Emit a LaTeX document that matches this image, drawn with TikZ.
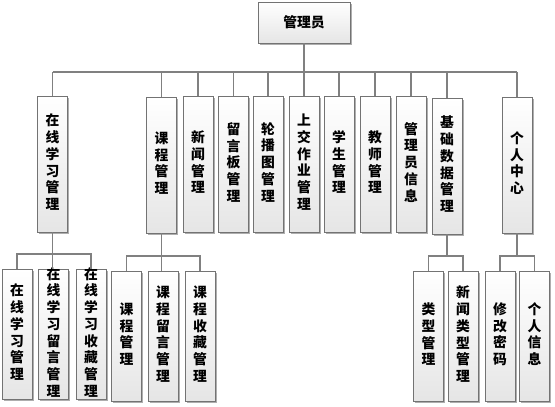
\documentclass[tikz,border=0pt]{standalone}
\usepackage{fontspec}
\usepackage{tikz}
\usetikzlibrary{shadows, positioning}
\newfontfamily\cjk{Noto Sans CJK SC}
\newcommand{\vtext}[1]{\parbox[c][0pt][c]{16pt}{\centering #1}}

\begin{document}
\begin{tikzpicture}[
    x=1pt, y=-1pt,
    module/.style={draw=black!55, line width=0.8pt, top color=white, bottom color=black!10,
        drop shadow={shadow xshift=1.5pt, shadow yshift=-1.5pt, fill=black!45, opacity=0.7},
        minimum width=30pt, minimum height=136pt, inner sep=0pt,
        font=\cjk\bfseries\fontsize{13.8}{16.7}\selectfont},
    submodule/.style={module, minimum height=130pt},
    conn/.style={draw=black!50, line width=1.2pt}
]
\useasboundingbox (0,0) rectangle (555,407);

% Top
\node[module, minimum width=92pt, minimum height=41pt] (admin) at (304,22.5) {管理员};
\coordinate (bus1) at (0,72);

% Second layer
\node[module] (zxxx) at (52.5,164) {\vtext{在\\线\\学\\习\\管\\理}};
\node[module] (kc) at (161.5,165) {\vtext{课\\程\\管\\理}};
\node[module] (xw) at (198,164) {\vtext{新\\闻\\管\\理}};
\node[module] (lyb) at (233.5,164) {\vtext{留\\言\\板\\管\\理}};
\node[module] (lbt) at (268,164) {\vtext{轮\\播\\图\\管\\理}};
\node[module] (sjzy) at (304,164) {\vtext{上\\交\\作\\业\\管\\理}};
\node[module] (xs) at (339,164) {\vtext{学\\生\\管\\理}};
\node[module] (js) at (375,164) {\vtext{教\\师\\管\\理}};
\node[module] (gly) at (411,164) {\vtext{管\\理\\员\\信\\息}};
\node[module] (jcsj) at (447,166) {\vtext{基\\础\\数\\据\\管\\理}};
\node[module] (grzx) at (517,165) {\vtext{个\\人\\中\\心}};

\draw[conn] (admin.south) -- (admin.south |- bus1);
\draw[conn] (zxxx.north |- bus1) -- (grzx.north |- bus1);
\foreach \n in {zxxx,kc,xw,lyb,lbt,sjzy,xs,js,gly,jcsj,grzx}
    \draw[conn] (\n.north) -- (\n.north |- bus1);

% Third layer
\node[submodule] (zxxx1) at (17,334) {\vtext{在\\线\\学\\习\\管\\理}};
\node[submodule] (zxly) at (53.5,334) {\vtext{在\\线\\学\\习\\留\\言\\管\\理}};
\node[submodule] (zxsc) at (91,334) {\vtext{在\\线\\学\\习\\收\\藏\\管\\理}};
\node[submodule] (kc1) at (126.5,336) {\vtext{课\\程\\管\\理}};
\node[submodule] (kcly) at (163,336) {\vtext{课\\程\\留\\言\\管\\理}};
\node[submodule] (kcsc) at (200,336) {\vtext{课\\程\\收\\藏\\管\\理}};
\node[submodule] (lxgl) at (428.5,336) {\vtext{类\\型\\管\\理}};
\node[submodule] (xwlx) at (463,336) {\vtext{新\\闻\\类\\型\\管\\理}};
\node[submodule] (xgmm) at (500,336) {\vtext{修\\改\\密\\码}};
\node[submodule] (grxx) at (534.5,336) {\vtext{个\\人\\信\\息}};

\coordinate (bus2) at (0,254);
\coordinate (bus3) at (0,256);
\draw[conn] (zxxx.south) -- (zxxx.south |- zxly.north);
\draw[conn] (zxxx1.north) -- (zxxx1.north |- bus2) -- (zxsc.north |- bus2) -- (zxsc.north);
\draw[conn] (kc.south) -- (kc.south |- kcly.north);
\draw[conn] (kc1.north) -- (kc1.north |- bus3) -- (kcsc.north |- bus3) -- (kcsc.north);
\draw[conn] (jcsj.south) -- (jcsj.south |- bus3);
\draw[conn] (lxgl.north) -- (lxgl.north |- bus3) -- (xwlx.north |- bus3) -- (xwlx.north);
\draw[conn] (grzx.south) -- (grzx.south |- bus3);
\draw[conn] (xgmm.north) -- (xgmm.north |- bus3) -- (grxx.north |- bus3) -- (grxx.north);

\end{tikzpicture}
\end{document}
